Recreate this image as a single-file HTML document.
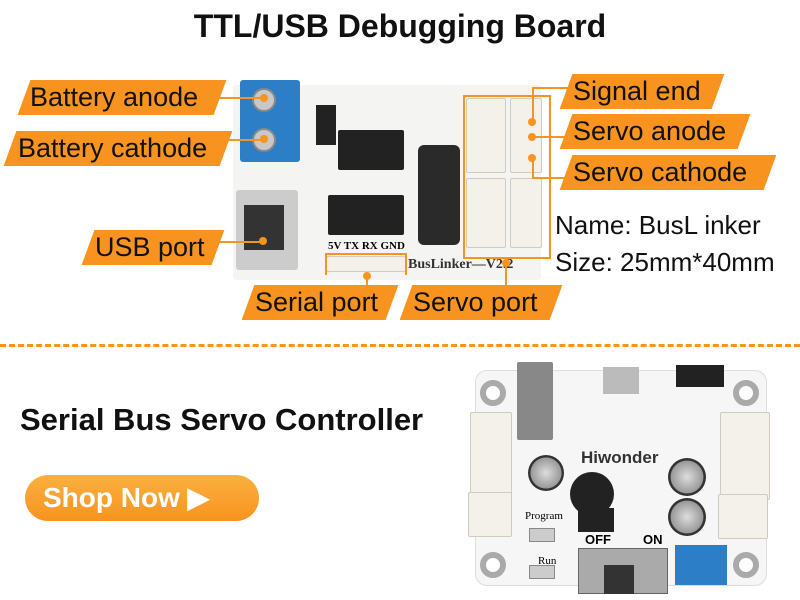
<!DOCTYPE html>
<html><head><meta charset="utf-8"><style>
*{margin:0;padding:0;box-sizing:border-box}
body{width:800px;height:600px;background:#fff;position:relative;overflow:hidden;font-family:"Liberation Sans",Arial,sans-serif}
.a{position:absolute}
.lb{position:absolute;height:35px;background:#f7931e;transform:skewX(-20deg)}
.lt{position:absolute;font-size:27px;color:#111;line-height:35px;white-space:nowrap}
.ln{position:absolute;background:#f7931e}
.dot{position:absolute;width:8px;height:8px;border-radius:50%;background:#f7931e}
.con{position:absolute;background:#f3f1ea;border:1px solid #cfcbbf;border-radius:2px}
.ic{position:absolute;background:#222;border-radius:2px}
.cap{position:absolute;border-radius:50%;background:radial-gradient(#ddd,#999 60%,#333 62%)}
.hole{position:absolute;width:26px;height:26px;border-radius:50%;border:6px solid #aaa;background:#fff}
</style></head><body>
<div class="a" style="left:0;top:8px;width:800px;text-align:center;font-size:32px;font-weight:bold;color:#111">TTL/USB Debugging Board</div>

<div class="a" style="left:233px;top:85px;width:308px;height:195px;background:#f4f4f2;border-radius:4px"></div>
<div class="a" style="left:240px;top:80px;width:60px;height:82px;background:#2c7fc6;border-radius:3px"></div>
<div class="a" style="left:252px;top:88px;width:24px;height:24px;border-radius:50%;background:#c8c8c8;border:2px solid #888"></div>
<div class="a" style="left:252px;top:128px;width:24px;height:24px;border-radius:50%;background:#c8c8c8;border:2px solid #888"></div>
<div class="a" style="left:236px;top:190px;width:62px;height:80px;background:#ccc;border-radius:3px"></div>
<div class="a" style="left:244px;top:205px;width:40px;height:45px;background:#333"></div>
<div class="a" style="left:316px;top:105px;width:20px;height:40px;background:#222"></div>
<div class="ic" style="left:338px;top:130px;width:66px;height:40px"></div>
<div class="ic" style="left:328px;top:195px;width:76px;height:40px"></div>
<div class="a" style="left:418px;top:145px;width:42px;height:100px;background:#2a2a2a;border-radius:6px"></div>
<div class="con" style="left:466px;top:98px;width:40px;height:75px"></div>
<div class="con" style="left:510px;top:98px;width:32px;height:75px"></div>
<div class="con" style="left:466px;top:178px;width:40px;height:70px"></div>
<div class="con" style="left:510px;top:178px;width:32px;height:70px"></div>
<div class="con" style="left:326px;top:256px;width:80px;height:16px"></div>
<div class="a" style="left:328px;top:240px;font-size:11px;font-family:'Liberation Serif',serif;font-weight:bold">5V TX RX GND</div>
<div class="a" style="left:408px;top:257px;font-size:14px;font-family:'Liberation Serif',serif;font-weight:bold;color:#333">BusLinker—V2.2</div>

<div class="lb" style="left:24px;top:80px;width:196px"></div><div class="lt" style="left:30px;top:80px">Battery anode</div>
<div class="lb" style="left:10px;top:131px;width:216px"></div><div class="lt" style="left:18px;top:131px">Battery cathode</div>
<div class="lb" style="left:88px;top:230px;width:130px"></div><div class="lt" style="left:95px;top:230px">USB port</div>
<div class="lb" style="left:248px;top:285px;width:144px"></div><div class="lt" style="left:255px;top:285px">Serial port</div>
<div class="lb" style="left:406px;top:285px;width:150px"></div><div class="lt" style="left:413px;top:285px">Servo port</div>
<div class="lb" style="left:566px;top:74px;width:152px"></div><div class="lt" style="left:573px;top:74px">Signal end</div>
<div class="lb" style="left:566px;top:114px;width:178px"></div><div class="lt" style="left:573px;top:114px">Servo anode</div>
<div class="lb" style="left:566px;top:155px;width:204px"></div><div class="lt" style="left:573px;top:155px">Servo cathode</div>
<div class="ln" style="left:218px;top:97px;width:46px;height:2px"></div><div class="dot" style="left:260px;top:94px"></div>
<div class="ln" style="left:222px;top:139px;width:42px;height:2px"></div><div class="dot" style="left:260px;top:135px"></div>
<div class="ln" style="left:215px;top:241px;width:48px;height:2px"></div><div class="dot" style="left:259px;top:237px"></div>
<div class="ln" style="left:325px;top:253px;width:82px;height:2px"></div><div class="ln" style="left:325px;top:253px;width:2px;height:22px"></div><div class="ln" style="left:405px;top:253px;width:2px;height:22px"></div><div class="ln" style="left:366px;top:275px;width:2px;height:12px"></div><div class="dot" style="left:363px;top:272px"></div>
<div class="ln" style="left:463px;top:95px;width:2px;height:162px"></div><div class="ln" style="left:463px;top:95px;width:88px;height:2px"></div><div class="ln" style="left:549px;top:95px;width:2px;height:162px"></div><div class="ln" style="left:463px;top:257px;width:88px;height:2px"></div><div class="ln" style="left:505px;top:259px;width:2px;height:28px"></div><div class="dot" style="left:502px;top:259px"></div>
<div class="dot" style="left:528px;top:118px"></div><div class="dot" style="left:528px;top:133px"></div><div class="dot" style="left:528px;top:154px"></div>
<div class="ln" style="left:532px;top:87px;width:40px;height:2px"></div><div class="ln" style="left:532px;top:87px;width:2px;height:32px"></div>
<div class="ln" style="left:532px;top:136px;width:36px;height:2px"></div>
<div class="ln" style="left:532px;top:177px;width:38px;height:2px"></div><div class="ln" style="left:532px;top:156px;width:2px;height:22px"></div>

<div class="a" style="left:555px;top:210px;font-size:26px;color:#111">Name: BusL inker</div>
<div class="a" style="left:555px;top:247px;font-size:26px;color:#111">Size: 25mm*40mm</div>

<div class="a" style="left:0;top:344px;width:800px;border-top:3px dashed #f7931e"></div>

<div class="a" style="left:20px;top:402px;font-size:31px;font-weight:bold;color:#111">Serial Bus Servo Controller</div>
<div class="a" style="left:25px;top:475px;width:234px;height:46px;border-radius:23px;background:linear-gradient(#fbb040,#f7931e);color:#fff;font-size:28px;font-weight:bold;line-height:46px;padding-left:18px">Shop Now ▶</div>

<div class="a" style="left:475px;top:370px;width:292px;height:216px;background:#f6f6f6;border-radius:12px;border:1px solid #ddd"></div>
<div class="hole" style="left:480px;top:380px"></div><div class="hole" style="left:733px;top:380px"></div>
<div class="hole" style="left:480px;top:552px"></div><div class="hole" style="left:733px;top:552px"></div>
<div class="a" style="left:517px;top:362px;width:36px;height:78px;background:#888;border-radius:2px"></div>
<div class="a" style="left:603px;top:367px;width:36px;height:27px;background:#bbb"></div>
<div class="a" style="left:676px;top:365px;width:48px;height:22px;background:#222"></div>
<div class="con" style="left:470px;top:412px;width:42px;height:88px"></div>
<div class="con" style="left:468px;top:492px;width:44px;height:45px"></div>
<div class="con" style="left:720px;top:412px;width:50px;height:88px"></div>
<div class="con" style="left:718px;top:494px;width:50px;height:45px"></div>
<div class="a" style="left:581px;top:448px;font-size:17px;font-weight:bold;color:#333">Hiwonder</div>
<div class="cap" style="left:528px;top:455px;width:36px;height:36px"></div>
<div class="cap" style="left:668px;top:458px;width:38px;height:38px"></div>
<div class="cap" style="left:668px;top:498px;width:38px;height:38px"></div>
<div class="a" style="left:570px;top:472px;width:44px;height:44px;border-radius:50%;background:#222"></div>
<div class="a" style="left:578px;top:508px;width:36px;height:24px;background:#222"></div>
<div class="a" style="left:578px;top:548px;width:90px;height:46px;background:#aaa;border:1px solid #666"></div>
<div class="a" style="left:604px;top:565px;width:30px;height:29px;background:#333"></div>
<div class="a" style="left:675px;top:545px;width:52px;height:40px;background:#2c7fc6"></div>
<div class="a" style="left:529px;top:528px;width:26px;height:14px;background:#ccc;border:1px solid #888"></div>
<div class="a" style="left:529px;top:565px;width:26px;height:14px;background:#ccc;border:1px solid #888"></div>
<div class="a" style="left:525px;top:510px;font-size:11px;font-family:'Liberation Serif',serif">Program</div>
<div class="a" style="left:538px;top:555px;font-size:11px;font-family:'Liberation Serif',serif">Run</div>
<div class="a" style="left:585px;top:532px;font-size:13px;font-weight:bold">OFF</div>
<div class="a" style="left:643px;top:532px;font-size:13px;font-weight:bold">ON</div>
</body></html>
